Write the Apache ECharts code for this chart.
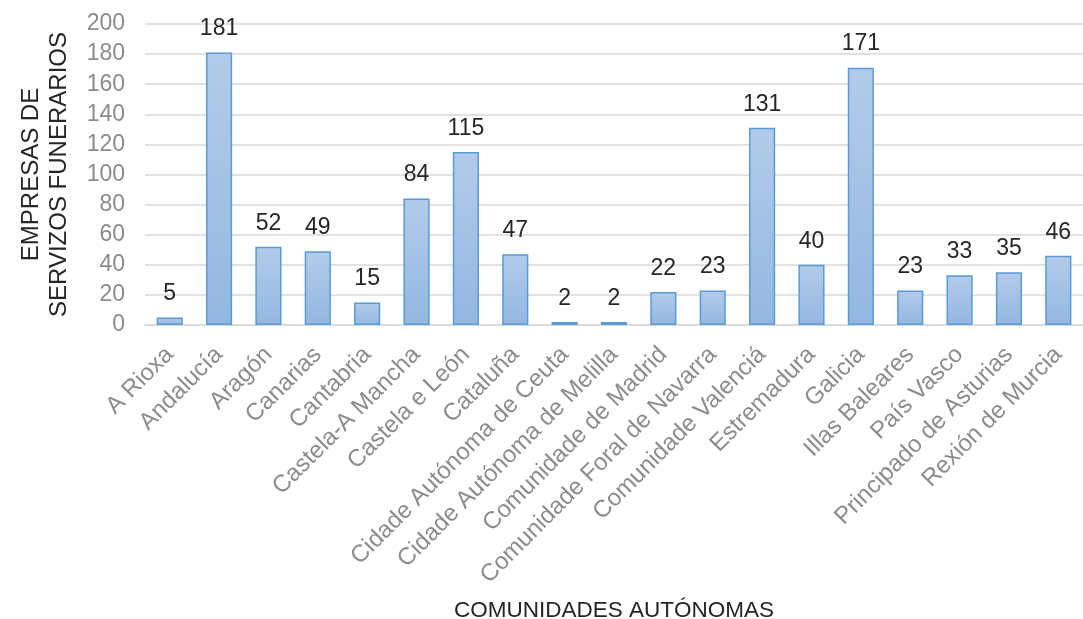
<!DOCTYPE html>
<html><head><meta charset="utf-8">
<script src="https://cdn.jsdelivr.net/npm/echarts@6/dist/echarts.min.js"></script>
<style>html,body{margin:0;padding:0;background:#fff}#c{width:1083px;height:619px}</style>
</head><body><div id="c"></div>
<script>
const categories = ["A Rioxa","Andalucía","Aragón","Canarias","Cantabria","Castela-A Mancha","Castela e León","Cataluña","Cidade Autónoma de Ceuta","Cidade Autónoma de Melilla","Comunidade de Madrid","Comunidade Foral de Navarra","Comunidade Valenciá","Estremadura","Galicia","Illas Baleares","País Vasco","Principado de Asturias","Rexión de Murcia"];
const values = [5,181,52,49,15,84,115,47,2,2,22,23,131,40,171,23,33,35,46];
const yTitle = "EMPRESAS DE\nSERVIZOS FUNERARIOS";
const xTitle = "COMUNIDADES AUTÓNOMAS";
const chart = echarts.init(document.getElementById('c'));
const F = 'Liberation Sans, Arial, sans-serif';
chart.setOption({
  animation:false,
  grid:{left:145,right:0,top:24,bottom:294,containLabel:false,outerBoundsMode:'none'},
  xAxis:{type:'category',data:categories,
    name:xTitle,nameLocation:'middle',nameGap:274,
    nameTextStyle:{fontFamily:F,fontSize:22.5,color:'#262626'},
    axisLine:{lineStyle:{color:'#d9d9d9',width:1.5}},axisTick:{show:false},
    axisLabel:{rotate:45,interval:0,margin:26,fontFamily:F,fontSize:24,color:'#8c8c8c'}},
  yAxis:{type:'value',min:0,max:200,interval:20,
    name:yTitle,nameLocation:'middle',nameGap:72,nameRotate:90,
    nameTextStyle:{fontFamily:F,fontSize:24,color:'#262626',lineHeight:28},
    axisLine:{show:false},axisTick:{show:false},
    axisLabel:{margin:20,fontFamily:F,fontSize:23,color:'#8c8c8c'},
    splitLine:{lineStyle:{color:'#d9d9d9',width:1.5}}},
  series:[{type:'bar',data:values,barCategoryGap:'47%',
    itemStyle:{borderColor:'#5b9bd5',borderWidth:1.5,
      color:new echarts.graphic.LinearGradient(0,0,0,1,[{offset:0,color:'#b3cbea'},{offset:1,color:'#93b7e1'}])},
    label:{show:true,position:'top',distance:12,fontFamily:F,fontSize:23,color:'#262626'}}]
});
</script></body></html>
